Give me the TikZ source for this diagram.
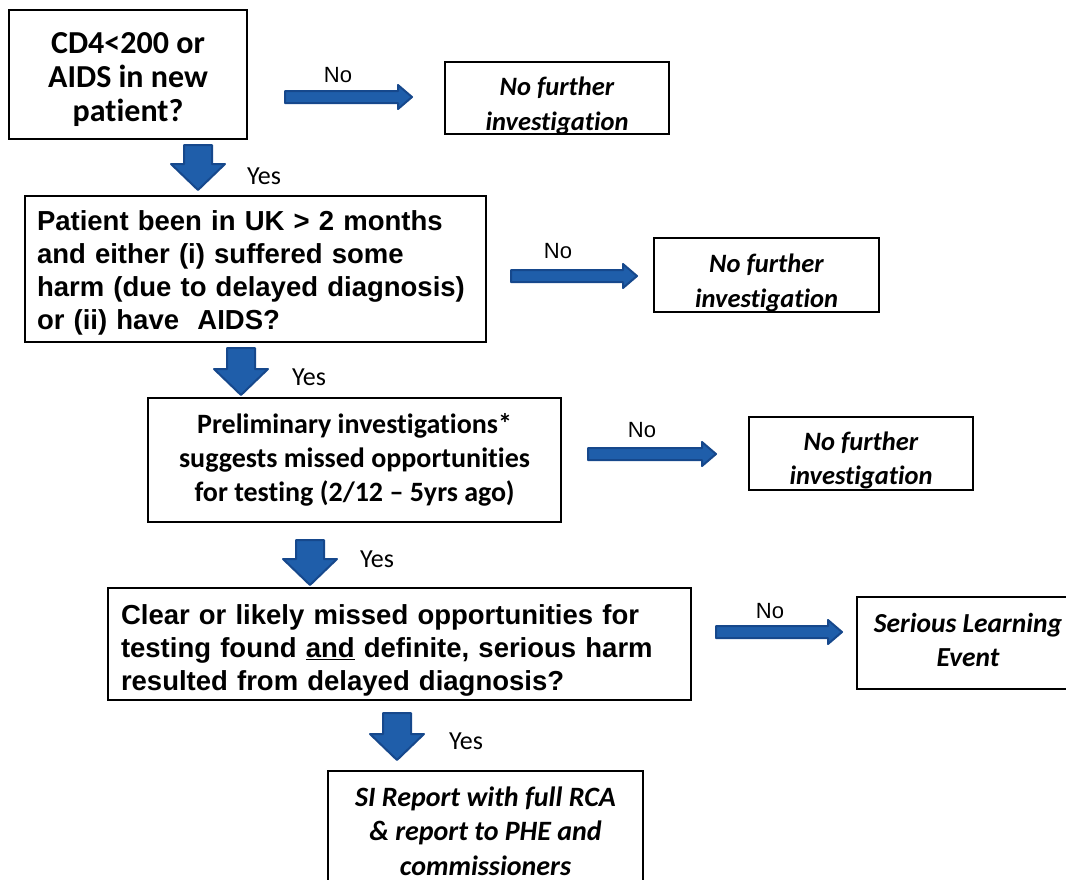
\documentclass[tikz,border=0pt]{standalone}
\usepackage{fontspec}
\setmainfont{Carlito}[Ligatures=NoCommon]
\newfontfamily\arialf{Liberation Sans}
\definecolor{arrfill}{RGB}{31,94,170}
\definecolor{arrdraw}{RGB}{22,72,140}
\newcommand\rblock[4]{% name, x1, x2, y
  \path[blockarr] (#2,#4-6) -- (#3-14,#4-6) -- (#3-14,#4-12) -- (#3,#4) -- (#3-14,#4+12) -- (#3-14,#4+6) -- (#2,#4+6) -- cycle;
  \coordinate (#1) at (#2,#4);}
\newcommand\dblock[4]{% name, cx, y1, y2
  \path[blockarr] (#2-14,#3) -- (#2+14,#3) -- (#2+14,#4-26) -- (#2+27,#4-26) -- (#2,#4) -- (#2-27,#4-26) -- (#2-14,#4-26) -- cycle;
  \coordinate (#1) at (#2,#3);}
\begin{document}
\begin{tikzpicture}[x=1pt,y=-1pt,
  box/.style={draw=black, line width=1.8pt, inner sep=0pt},
  txt/.style={inner sep=0pt, align=center},
  blockarr/.style={fill=arrfill, draw=arrdraw, line width=2pt, line join=round},
  yeslab/.style={font=\fontsize{26}{30}\selectfont, inner sep=0pt},
  nolab/.style={font=\arialf\fontsize{22}{26}\selectfont, inner sep=0pt},
  calb/.style={font=\fontsize{#1}{34}\selectfont\bfseries},
  calbi/.style={font=\fontsize{#1}{34.5}\selectfont\bfseries\itshape},
  ariab/.style={font=\arialf\fontsize{#1}{33}\selectfont\bfseries}]
\useasboundingbox (0,0) rectangle (1066,879);
% boxes
\node[box, minimum width=238pt, minimum height=129pt] (q1) at (128,74.5) {};
\node[txt, calb=32] (q1t) at ([yshift=-5pt]q1.center) {CD4<200 or\\AIDS in new\\patient?};
\node[box, minimum width=224pt, minimum height=72pt] (n1) at (557,98) {};
\node[txt, calbi=26.5] (n1t) at ([yshift=-8pt]n1.center) {No further\\investigation};
\node[box, minimum width=461pt, minimum height=146pt] (q2) at (255.5,269) {};
\node[txt, ariab=27.5, text width=437pt, align=left] (q2t) at ([yshift=-4pt]q2.center) {Patient been in UK > 2 months\\and either (i) suffered some\\harm (due to delayed diagnosis)\\or (ii) have\ \ AIDS?};
\node[box, minimum width=225pt, minimum height=74pt] (n2) at (766.5,275) {};
\node[txt, calbi=26.5] (n2t) at ([yshift=-8pt]n2.center) {No further\\investigation};
\node[box, minimum width=413pt, minimum height=124pt] (q3) at (354.5,460) {};
\node[txt, calb=28] (q3t) at (q3.center) {Preliminary investigations*\\suggests missed opportunities\\for testing (2/12 -- 5yrs ago)};
\node[box, minimum width=224pt, minimum height=73pt] (n3) at (861,453.5) {};
\node[txt, calbi=26.5] (n3t) at ([yshift=-7pt]n3.center) {No further\\investigation};
\node[box, minimum width=583pt, minimum height=112pt] (q4) at (399.5,644) {};
\node[txt, ariab=27.5, text width=557pt, align=left] (q4t) at ([yshift=-6pt]q4.center) {Clear or likely missed opportunities for\\testing found \underline{and} definite, serious harm\\resulted from delayed diagnosis?};
\node[box, minimum width=222pt, minimum height=92pt] (sle) at (968,643) {};
\node[txt, calbi=27.5] (slet) at ([yshift=3pt]sle.center) {Serious Learning\\Event};
\node[box, minimum width=315pt, minimum height=120pt] (si) at (485.5,831) {};
\node[txt, calbi=28] (sit) at (si.center) {SI Report with full RCA\\\& report to PHE and\\commissioners};
% block arrows
\rblock{r1}{285}{412}{97}
\rblock{r2}{511}{637}{276}
\rblock{r3}{588}{716}{454}
\rblock{r4}{716}{842}{632}
\dblock{d1}{198}{145}{190}
\dblock{d2}{241}{348}{395}
\dblock{d3}{310}{540}{585}
\dblock{d4}{397}{713}{760}
% labels
\node[nolab] (lno1) at (338,75) {No};
\node[nolab] (lno2) at (558,251) {No};
\node[nolab] (lno3) at (642,430) {No};
\node[nolab] (lno4) at (770,611) {No};
\node[yeslab] (lyes1) at (264,176) {Yes};
\node[yeslab] (lyes2) at (309,377) {Yes};
\node[yeslab] (lyes3) at (377,559) {Yes};
\node[yeslab] (lyes4) at (466,741) {Yes};
\end{tikzpicture}
\end{document}
